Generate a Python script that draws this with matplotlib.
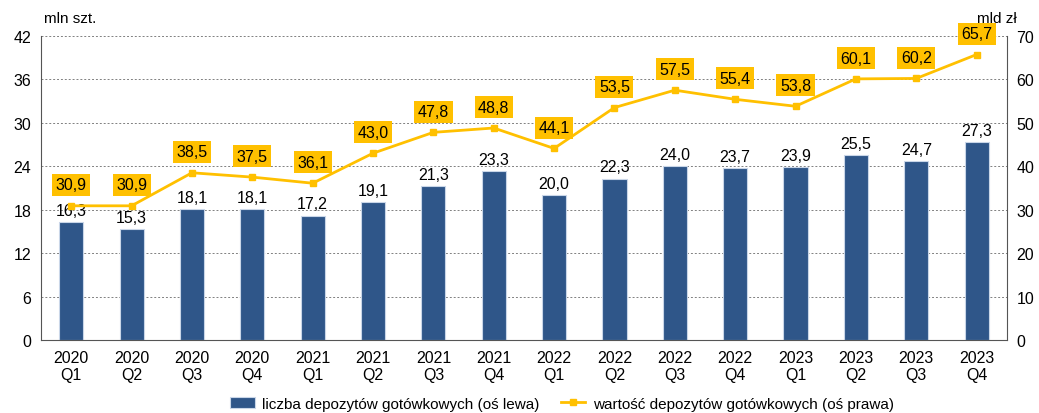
import matplotlib

matplotlib.use("Agg")
import matplotlib.pyplot as plt

plt.rcParams["font.family"] = ["Liberation Sans", "DejaVu Sans"]
plt.rcParams["font.size"] = 11

quarters = [
    "2020\nQ1", "2020\nQ2", "2020\nQ3", "2020\nQ4",
    "2021\nQ1", "2021\nQ2", "2021\nQ3", "2021\nQ4",
    "2022\nQ1", "2022\nQ2", "2022\nQ3", "2022\nQ4",
    "2023\nQ1", "2023\nQ2", "2023\nQ3", "2023\nQ4",
]
liczba = [16.3, 15.3, 18.1, 18.1, 17.2, 19.1, 21.3, 23.3,
          20.0, 22.3, 24.0, 23.7, 23.9, 25.5, 24.7, 27.3]
wartosc = [30.9, 30.9, 38.5, 37.5, 36.1, 43.0, 47.8, 48.8,
           44.1, 53.5, 57.5, 55.4, 53.8, 60.1, 60.2, 65.7]

BLUE = "#2F5689"
GOLD = "#FFC000"

fig = plt.figure(figsize=(10.39, 4.14), dpi=100)
ax = fig.add_axes([0.0395, 0.176, 0.9295, 0.735])
ax2 = ax.twinx()

x = list(range(len(quarters)))
bars = ax.bar(x, liczba, width=0.4, color=BLUE, edgecolor="#C9D6E8",
              linewidth=0.8, zorder=2, label="liczba depozytów gotówkowych (oś lewa)")
for b, v in zip(bars, liczba):
    ax.annotate(f"{v:.1f}".replace(".", ","), (b.get_x() + b.get_width() / 2, v),
                xytext=(0, 3), textcoords="offset points",
                ha="center", va="bottom", fontsize=11.5)

ax2.plot(x, wartosc, color=GOLD, linewidth=2, marker="s", markersize=4.5,
         zorder=3, label="wartość depozytów gotówkowych (oś prawa)")
for i, v in zip(x, wartosc):
    ax2.annotate(f"{v:.1f}".replace(".", ","), (i, v),
                 xytext=(0, 15), textcoords="offset points",
                 ha="center", va="center", fontsize=11.5,
                 bbox=dict(boxstyle="square,pad=0.22", fc=GOLD, ec="none"))

ax.set_xlim(-0.5, len(quarters) - 0.5)
ax.set_ylim(0, 42)
ax.set_yticks(range(0, 43, 6))
ax2.set_ylim(0, 70)
ax2.set_yticks(range(0, 71, 10))
ax.set_xticks(x, quarters)

ax.grid(True, axis="y", linestyle=(0, (2, 2)), color="#808080", linewidth=0.7, zorder=0)
ax.set_axisbelow(True)
for a in (ax, ax2):
    a.tick_params(length=0, labelsize=11.5, pad=7)
    a.spines["top"].set_visible(False)
ax.spines["right"].set_visible(False)
ax2.spines["left"].set_visible(False)
ax2.spines["bottom"].set_visible(False)
ax.spines["left"].set_color("#555555")
ax.spines["bottom"].set_color("#555555")
ax2.spines["right"].set_color("#555555")

ax.set_zorder(ax2.get_zorder() - 1)
ax.patch.set_visible(False)
ax2.patch.set_visible(False)

fig.text(0.042, 0.955, "mln szt.", fontsize=11, ha="left", va="center")
fig.text(0.979, 0.955, "mld zł", fontsize=11, ha="right", va="center")

h1, l1 = ax.get_legend_handles_labels()
h2, l2 = ax2.get_legend_handles_labels()
fig.legend(h1 + h2, l1 + l2, loc="lower center", bbox_to_anchor=(0.541, -0.028),
           ncol=2, frameon=False, fontsize=11, handlelength=1.6,
           columnspacing=1.4, handletextpad=0.5)

fig.savefig("out.png", dpi=100)
